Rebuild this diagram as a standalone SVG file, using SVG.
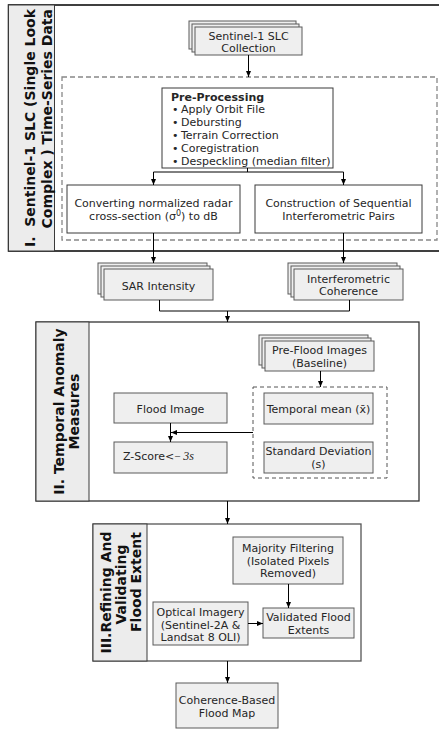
<svg xmlns="http://www.w3.org/2000/svg" width="439" height="729" viewBox="0 0 439 729">
<defs>
<marker id="ah" markerWidth="6" markerHeight="5" refX="6" refY="2.5" orient="auto" markerUnits="userSpaceOnUse"><path d="M0,0 L6,2.5 L0,5 z" fill="#000"/></marker>
<style>
.box{fill:#efefef;stroke:#5a5a5a;stroke-width:1}
.wbox{fill:#fff;stroke:#3a3a3a;stroke-width:1}
.panel{fill:#ececec;stroke:#3a3a3a;stroke-width:1}
.t{font-family:"DejaVu Sans",Verdana,sans-serif;font-size:11px;fill:#262626;text-anchor:middle}
.ttl{font-family:"DejaVu Sans",Verdana,sans-serif;font-size:14px;font-weight:bold;fill:#111;text-anchor:middle}
.c{stroke:#000;stroke-width:1;fill:none}
.a{marker-end:url(#ah)}
</style>
</defs>
<g id="section1">
<rect x="8.5" y="5" width="440" height="246" fill="#fff" stroke="#000" stroke-width="1.5"/>
<rect class="panel" x="8.5" y="5" width="46" height="246"/>
<text class="ttl" transform="translate(35,128) rotate(-90)" xml:space="preserve">I.  Sentinel-1 SLC (Single Look</text>
<text class="ttl" style="text-anchor:end" transform="translate(52,9) rotate(-90)">Complex ) Time-Series Data</text>
<rect x="62" y="77" width="375" height="163" fill="none" stroke="#888" stroke-width="1.3" stroke-dasharray="5,3"/>
</g>
<g id="section2">
<rect x="36" y="322" width="383" height="179" fill="#fff" stroke="#333" stroke-width="1.3"/>
<rect class="panel" x="36" y="322" width="53" height="179"/>
<text class="ttl" transform="translate(64,411.5) rotate(-90)">II. Temporal Anomaly</text>
<text class="ttl" transform="translate(78.5,411.5) rotate(-90)">Measures</text>
<rect x="253" y="387" width="134" height="91" fill="none" stroke="#555" stroke-width="1" stroke-dasharray="4,3"/>
</g>
<g id="section3">
<rect x="93" y="524" width="268" height="137" fill="#fff" stroke="#555" stroke-width="1.3"/>
<rect class="panel" x="93" y="524" width="54" height="137"/>
<text class="ttl" transform="translate(111,592.5) rotate(-90)">III.Refining And</text>
<text class="ttl" transform="translate(126,584.5) rotate(-90)">Validating</text>
<text class="ttl" transform="translate(141,582) rotate(-90)">Flood Extent</text>
</g>
<g id="n-collection">
<rect class="box" x="189" y="21" width="107" height="28"/>
<rect class="box" x="192" y="24" width="107" height="28"/>
<rect class="box" x="195" y="27" width="107" height="28"/>
<text class="t" x="248.5" y="39.5">Sentinel-1 SLC</text>
<text class="t" x="248.5" y="51.5">Collection</text>
</g>
<g id="n-preprocessing">
<rect class="wbox" x="162" y="88" width="171" height="80"/>
<text class="t" style="text-anchor:start;font-weight:bold" x="171" y="100.5">Pre-Processing</text>
<g class="t" style="text-anchor:start">
<text x="172" y="113.4">•</text><text x="181" y="113.4">Apply Orbit File</text>
<text x="172" y="126.3">•</text><text x="181" y="126.3">Debursting</text>
<text x="172" y="139.2">•</text><text x="181" y="139.2">Terrain Correction</text>
<text x="172" y="152.1">•</text><text x="181" y="152.1">Coregistration</text>
<text x="172" y="165">•</text><text x="181" y="165">Despeckling (median filter)</text>
</g>
</g>
<g id="n-converting">
<rect class="wbox" x="67" y="185" width="173" height="48"/>
<text class="t" x="153.5" y="207">Converting normalized radar</text>
<text class="t" x="153.5" y="219.5">cross-section (σ<tspan font-size="8" dy="-4">0</tspan><tspan dy="4">) to dB</tspan></text>
</g>
<g id="n-construction">
<rect class="wbox" x="255" y="185" width="167" height="48"/>
<text class="t" x="338.5" y="207">Construction of Sequential</text>
<text class="t" x="338.5" y="219.5">Interferometric Pairs</text>
</g>
<g id="n-sar">
<rect class="box" x="98" y="263" width="109" height="31"/>
<rect class="box" x="101" y="266" width="109" height="31"/>
<rect class="box" x="104" y="269" width="109" height="31"/>
<text class="t" x="158.5" y="289.5">SAR Intensity</text>
</g>
<g id="n-coherence">
<rect class="box" x="288" y="263" width="109" height="31"/>
<rect class="box" x="291" y="266" width="109" height="31"/>
<rect class="box" x="294" y="269" width="109" height="31"/>
<text class="t" x="348.5" y="282.5">Interferometric</text>
<text class="t" x="348.5" y="295">Coherence</text>
</g>
<g id="n-preflood">
<rect class="box" x="259" y="335" width="109" height="30"/>
<rect class="box" x="262" y="338" width="109" height="30"/>
<rect class="box" x="265" y="341" width="109" height="30"/>
<text class="t" x="319.5" y="354">Pre-Flood Images</text>
<text class="t" x="319.5" y="367">(Baseline)</text>
</g>
<g id="n-mean">
<rect class="box" x="264" y="393" width="109" height="31"/>
<text class="t" x="318.5" y="413">Temporal mean (x̄)</text>
</g>
<g id="n-std">
<rect class="box" x="264" y="442" width="109" height="31"/>
<text class="t" x="318.5" y="455">Standard Deviation</text>
<text class="t" x="318.5" y="467.5">(s)</text>
</g>
<g id="n-flood">
<rect class="box" x="114" y="393" width="113" height="30"/>
<text class="t" x="170.5" y="413">Flood Image</text>
</g>
<g id="n-zscore">
<rect class="box" x="114" y="442" width="113" height="31"/>
<text class="t" style="text-anchor:start" x="123" y="460">Z-Score&lt;<tspan font-family="Liberation Serif,serif">− </tspan><tspan font-family="Liberation Serif,serif" font-style="italic" font-size="12">3s</tspan></text>
</g>
<g id="n-majority">
<rect class="box" x="233" y="537" width="110" height="47"/>
<text class="t" x="288" y="552">Majority Filtering</text>
<text class="t" x="288" y="564.5">(Isolated Pixels</text>
<text class="t" x="288" y="577">Removed)</text>
</g>
<g id="n-optical">
<rect class="box" x="153" y="602" width="95" height="43"/>
<text class="t" x="200.5" y="616">Optical Imagery</text>
<text class="t" x="200.5" y="628.5">(Sentinel-2A &amp;</text>
<text class="t" x="200.5" y="641">Landsat 8 OLI)</text>
</g>
<g id="n-validated">
<rect class="box" x="263" y="608" width="91" height="30"/>
<text class="t" x="308.5" y="621">Validated Flood</text>
<text class="t" x="308.5" y="634">Extents</text>
</g>
<g id="n-final">
<rect class="box" x="176" y="683" width="102" height="45"/>
<text class="t" x="227" y="704">Coherence-Based</text>
<text class="t" x="227" y="717">Flood Map</text>
</g>
<g id="connectors">
<path class="c a" d="M248.5,55 V77"/>
<path class="c" d="M247.5,168 V172 M153.5,172 H343.5"/>
<path class="c a" d="M153.5,172 V185"/>
<path class="c a" d="M343.5,172 V185"/>
<path class="c a" d="M153.5,233 V263"/>
<path class="c a" d="M343.5,233 V263"/>
<path class="c" d="M159.5,300 V311 H349.5 V300"/>
<path class="c a" d="M227.5,311 V322"/>
<path class="c a" d="M227.5,501 V524"/>
<path class="c a" d="M320.5,371 V387"/>
<path class="c a" d="M170.5,423 V442"/>
<path class="c a" d="M253,432.5 H171"/>
<path class="c a" d="M288.5,584 V608"/>
<path class="c a" d="M248,623.5 H263"/>
<path class="c a" d="M227.5,661 V683"/>
</g>
</svg>
